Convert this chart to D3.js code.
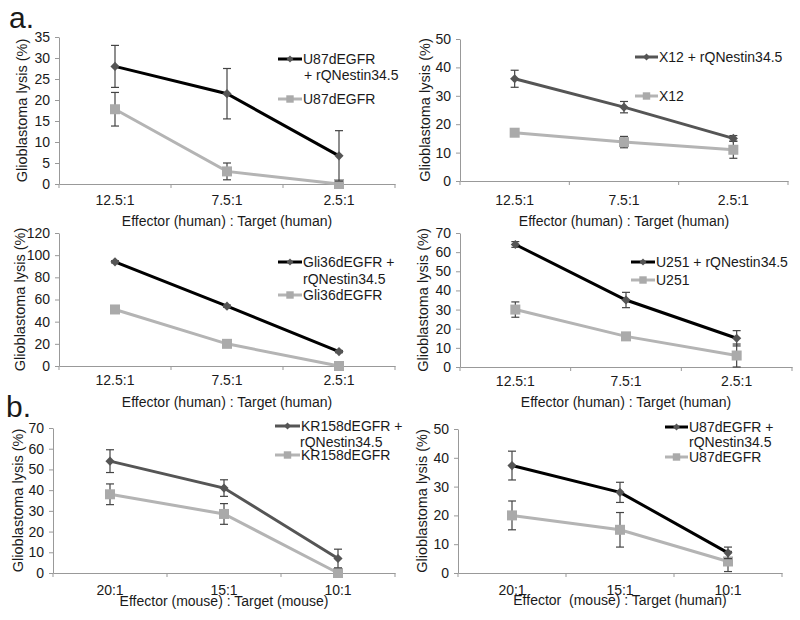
<!DOCTYPE html>
<html>
<head>
<meta charset="utf-8">
<script src="https://cdn.jsdelivr.net/npm/d3@7"></script>
<style>
  html, body { margin: 0; padding: 0; background: #fff; }
  svg { display: block; font-family: "Liberation Sans", Arial, sans-serif; }
</style>
</head>
<body>
<svg id="chart" width="800" height="620"></svg>
<script>
// ---------- DATA ----------
const categoriesHuman = ["12.5:1", "7.5:1", "2.5:1"];
const categoriesMouse = ["20:1", "15:1", "10:1"];

// Panel 1: U87dEGFR (human effector : human target)
const p1Treated = [28, 21.5, 6.7];
const p1TreatedErr = [5, 6, 6];
const p1Control = [17.8, 3, 0];
const p1ControlErr = [4, 2, 0];
const p1Ticks = [0, 5, 10, 15, 20, 25, 30, 35];

// Panel 2: X12
const p2Treated = [36, 26, 15];
const p2TreatedErr = [3, 2, 1];
const p2Control = [17, 13.7, 11];
const p2ControlErr = [0.5, 2, 3];
const p2Ticks = [0, 10, 20, 30, 40, 50];

// Panel 3: Gli36dEGFR
const p3Treated = [94, 54, 13];
const p3TreatedErr = [1, 1, 1];
const p3Control = [51, 20, 0];
const p3ControlErr = [3, 1, 0];
const p3Ticks = [0, 20, 40, 60, 80, 100, 120];

// Panel 4: U251
const p4Treated = [64, 35, 15];
const p4TreatedErr = [1.5, 4, 4];
const p4Control = [30, 16, 6];
const p4ControlErr = [4, 1, 6];
const p4Ticks = [0, 10, 20, 30, 40, 50, 60, 70];

// Panel 5: KR158dEGFR (mouse : mouse)
const p5Treated = [54, 41, 7];
const p5TreatedErr = [5.5, 4, 4.5];
const p5Control = [38, 28.5, 0];
const p5ControlErr = [5, 5, 0];
const p5Ticks = [0, 10, 20, 30, 40, 50, 60, 70];

// Panel 6: U87dEGFR (mouse : human)
const p6Treated = [37.3, 28, 7];
const p6TreatedErr = [5, 3.5, 2];
const p6Control = [20, 15, 4];
const p6ControlErr = [5, 6, 3.5];
const p6Ticks = [0, 10, 20, 30, 40, 50];

const yTitle = "Glioblastoma lysis (%)";

// ---------- LAYOUT / STYLE ----------
const panels = [
  { x0: 59, x1: 395, yTop: 37, yBot: 184, cats: categoriesHuman, ticks: p1Ticks,
    t: p1Treated, te: p1TreatedErr, c: p1Control, ce: p1ControlErr, tColor: "#000",
    xTitle: "Effector (human) : Target (human)", lblDy: 18, titleY: 221, yTitleX: 22,
    leg: { lx: 278, lx2: 302, tx: 303, y1: 59, lines: ["U87dEGFR", "+ rQNestin34.5"], line2x: 304, y2: 75, yc: 99, ctext: "U87dEGFR" } },
  { x0: 460, x1: 788, yTop: 39, yBot: 181, cats: categoriesHuman, ticks: p2Ticks,
    t: p2Treated, te: p2TreatedErr, c: p2Control, ce: p2ControlErr, tColor: "#555",
    xTitle: "Effector (human) : Target (human)", lblDy: 21, titleY: 221, yTitleX: 425,
    leg: { lx: 635, lx2: 658, tx: 659, y1: 57, lines: ["X12 + rQNestin34.5"], yc: 96, ctext: "X12" } },
  { x0: 59, x1: 395, yTop: 233, yBot: 366, cats: categoriesHuman, ticks: p3Ticks,
    t: p3Treated, te: p3TreatedErr, c: p3Control, ce: p3ControlErr, tColor: "#000",
    xTitle: "Effector (human) : Target (human)", lblDy: 16, titleY: 402, yTitleX: 20,
    leg: { lx: 278, lx2: 302, tx: 303, y1: 262, lines: ["Gli36dEGFR +", "rQNestin34.5"], line2x: 303, y2: 279, yc: 295, ctext: "Gli36dEGFR" } },
  { x0: 460, x1: 792, yTop: 233, yBot: 367, cats: categoriesHuman, ticks: p4Ticks,
    t: p4Treated, te: p4TreatedErr, c: p4Control, ce: p4ControlErr, tColor: "#000",
    xTitle: "Effector (human) : Target (human)", lblDy: 16, titleY: 402, yTitleX: 423,
    leg: { lx: 631, lx2: 655, tx: 656, y1: 262, lines: ["U251 + rQNestin34.5"], yc: 280, ctext: "U251" } },
  { x0: 53, x1: 395, yTop: 428, yBot: 573, cats: categoriesMouse, ticks: p5Ticks,
    t: p5Treated, te: p5TreatedErr, c: p5Control, ce: p5ControlErr, tColor: "#555",
    xTitle: "Effector (mouse) : Target (mouse)", lblDy: 19, titleY: 601, yTitleX: 18,
    leg: { lx: 275, lx2: 300, tx: 301, y1: 426, lines: ["KR158dEGFR +", "rQNestin34.5"], line2x: 300, y2: 442, yc: 455, ctext: "KR158dEGFR" } },
  { x0: 458, x1: 782, yTop: 429, yBot: 573, cats: categoriesMouse, ticks: p6Ticks,
    t: p6Treated, te: p6TreatedErr, c: p6Control, ce: p6ControlErr, tColor: "#000",
    xTitle: "Effector  (mouse) : Target (human)", lblDy: 19, titleY: 600, yTitleX: 422,
    leg: { lx: 665, lx2: 688, tx: 689, y1: 427, lines: ["U87dEGFR +", "rQNestin34.5"], line2x: 689, y2: 442, yc: 457, ctext: "U87dEGFR" } }
];

const svg = d3.select("#chart");
const textColor = "#1a1a1a";
const axisColor = "#999";
const ctrlLine = "#b4b4b4";
const ctrlMark = "#aaaaaa";
const diamondFill = "#555";
const errColor = "#444";

svg.append("text").attr("x", 9).attr("y", 28).attr("font-size", 30).attr("fill", textColor).text("a.");
svg.append("text").attr("x", 6).attr("y", 417).attr("font-size", 30).attr("fill", textColor).text("b.");

const square = d3.symbol().type(d3.symbolSquare);

panels.forEach(p => {
  const g = svg.append("g");
  const x = d3.scaleBand().domain(p.cats).range([p.x0, p.x1]);
  const yMax = p.ticks[p.ticks.length - 1];
  const y = d3.scaleLinear().domain([0, yMax]).range([p.yBot, p.yTop]);

  // Y axis
  const yAxis = g.append("g").attr("transform", `translate(${p.x0},0)`)
    .call(d3.axisLeft(y).tickValues(p.ticks).tickSize(4).tickPadding(5).tickSizeOuter(0));
  yAxis.select(".domain").attr("stroke", axisColor);
  yAxis.selectAll(".tick line").attr("stroke", axisColor);
  yAxis.selectAll(".tick text").attr("font-size", 14).attr("fill", textColor)
    .attr("font-family", "Liberation Sans, Arial, sans-serif");

  // X axis (labels at category centres, tick marks at category boundaries)
  const xAxis = g.append("g").attr("transform", `translate(0,${p.yBot})`)
    .call(d3.axisBottom(x).tickSize(0).tickPadding(p.lblDy - 7).tickSizeOuter(0));
  xAxis.select(".domain").attr("stroke", axisColor);
  xAxis.selectAll(".tick text").attr("font-size", 14).attr("fill", textColor)
    .attr("font-family", "Liberation Sans, Arial, sans-serif");
  const bounds = p.cats.map(c => x(c)).concat([x(p.cats[p.cats.length - 1]) + x.bandwidth()]);
  g.selectAll(".xb").data(bounds).join("line")
    .attr("x1", d => d).attr("x2", d => d)
    .attr("y1", p.yBot).attr("y2", p.yBot + 4)
    .attr("stroke", axisColor);

  // Axis titles
  g.append("text").attr("x", (p.x0 + p.x1) / 2).attr("y", p.titleY)
    .attr("text-anchor", "middle").attr("dominant-baseline", "central")
    .attr("font-size", 14).attr("fill", textColor).style("white-space", "pre")
    .text(p.xTitle);
  g.append("text")
    .attr("transform", `translate(${p.yTitleX},${(p.yTop + p.yBot) / 2}) rotate(-90)`)
    .attr("text-anchor", "middle").attr("dominant-baseline", "central")
    .attr("font-size", 14.5).attr("fill", textColor).text(yTitle);

  const cx = c => x(c) + x.bandwidth() / 2;
  const line = d3.line().x(d => cx(d.cat)).y(d => y(d.v));
  const tData = p.cats.map((c, i) => ({ cat: c, v: p.t[i], e: p.te[i] }));
  const cData = p.cats.map((c, i) => ({ cat: c, v: p.c[i], e: p.ce[i] }));

  function drawErr(data) {
    const eg = g.append("g").attr("stroke", errColor).attr("stroke-width", 1.2);
    data.filter(d => d.e > 0).forEach(d => {
      const xx = cx(d.cat);
      const lo = Math.max(0, d.v - d.e), hi = d.v + d.e;
      eg.append("line").attr("x1", xx).attr("x2", xx).attr("y1", y(lo)).attr("y2", y(hi));
      eg.append("line").attr("x1", xx - 4).attr("x2", xx + 4).attr("y1", y(hi)).attr("y2", y(hi));
      eg.append("line").attr("x1", xx - 4).attr("x2", xx + 4).attr("y1", y(lo)).attr("y2", y(lo));
    });
  }

  // Control series
  g.append("path").datum(cData).attr("d", line).attr("fill", "none")
    .attr("stroke", ctrlLine).attr("stroke-width", 3);
  drawErr(cData);
  g.selectAll(".sq").data(cData).join("path")
    .attr("d", square.size(100)).attr("fill", ctrlMark)
    .attr("transform", d => `translate(${cx(d.cat)},${y(d.v)})`);

  // Treated series
  g.append("path").datum(tData).attr("d", line).attr("fill", "none")
    .attr("stroke", p.tColor).attr("stroke-width", 3);
  drawErr(tData);
  g.selectAll(".dm").data(tData).join("path")
    .attr("d", square.size(42)).attr("fill", diamondFill)
    .attr("transform", d => `translate(${cx(d.cat)},${y(d.v)}) rotate(45)`);

  // Legend
  const L = p.leg;
  g.append("line").attr("x1", L.lx).attr("x2", L.lx2).attr("y1", L.y1).attr("y2", L.y1)
    .attr("stroke", p.tColor).attr("stroke-width", 3);
  g.append("path").attr("d", square.size(24)).attr("fill", diamondFill)
    .attr("transform", `translate(${(L.lx + L.lx2) / 2},${L.y1}) rotate(45)`);
  g.append("text").attr("x", L.tx).attr("y", L.y1).attr("dominant-baseline", "central")
    .attr("font-size", 14).attr("fill", textColor).text(L.lines[0]);
  if (L.lines.length > 1) {
    g.append("text").attr("x", L.line2x).attr("y", L.y2).attr("dominant-baseline", "central")
      .attr("font-size", 14).attr("fill", textColor).text(L.lines[1]);
  }
  g.append("line").attr("x1", L.lx).attr("x2", L.lx2).attr("y1", L.yc).attr("y2", L.yc)
    .attr("stroke", ctrlLine).attr("stroke-width", 3);
  g.append("path").attr("d", square.size(55)).attr("fill", ctrlMark)
    .attr("transform", `translate(${(L.lx + L.lx2) / 2},${L.yc})`);
  g.append("text").attr("x", L.tx).attr("y", L.yc).attr("dominant-baseline", "central")
    .attr("font-size", 14).attr("fill", textColor).text(L.ctext);
});
</script>
</body>
</html>
